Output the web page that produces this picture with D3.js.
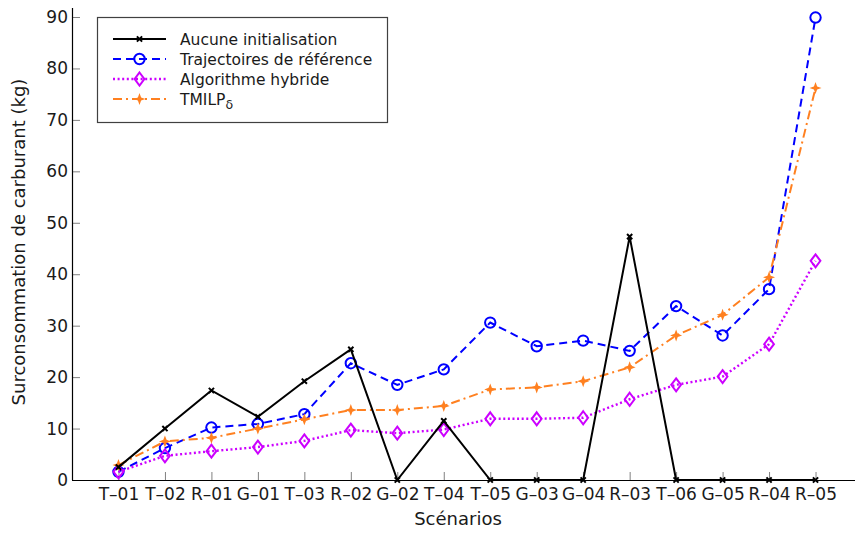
<!DOCTYPE html>
<html>
<head>
<meta charset="utf-8">
<script src="https://cdn.jsdelivr.net/npm/d3@7"></script>
<style>
  html, body { margin: 0; padding: 0; background: #fff; }
  svg text { font-family: "DejaVu Sans", Verdana, sans-serif; }
</style>
</head>
<body>
<svg id="chart" width="855" height="533"></svg>
<script>
// Scenario labels along the horizontal axis
const scenarios = ["T\u201301","T\u201302","R\u201301","G\u201301","T\u201303","R\u201302","G\u201302","T\u201304",
                   "T\u201305","G\u201303","G\u201304","R\u201303","T\u201306","G\u201305","R\u201304","R\u201305"];

// Fuel over-consumption (kg) per method
const aucuneInit   = [2.5, 10.0, 17.4, 12.3, 19.2, 25.4, 0, 11.5, 0, 0, 0, 47.3, 0, 0, 0, 0];
const trajRef      = [1.6, 6.2, 10.2, 10.9, 12.8, 22.7, 18.5, 21.5, 30.6, 26.0, 27.1, 25.1, 33.8, 28.1, 37.1, 89.9];
const hybride      = [1.6, 4.7, 5.6, 6.4, 7.6, 9.7, 9.1, 9.8, 11.9, 11.9, 12.1, 15.7, 18.5, 20.1, 26.4, 42.6];
const tmilp        = [2.9, 7.5, 8.2, 10.0, 11.8, 13.6, 13.6, 14.4, 17.6, 18.0, 19.2, 21.9, 28.1, 32.1, 39.4, 76.2];

const yTicks = [0, 10, 20, 30, 40, 50, 60, 70, 80, 90];

const svg = d3.select("#chart");
const W = 855, H = 533;
const plotLeft = 72, plotBottom = 480, plotTop = 8;

const x = d3.scalePoint().domain(scenarios).range([plotLeft, 862]).padding(1);
const y = d3.scaleLinear().domain([0, 90]).range([plotBottom, 17]);

// Axes: ticks point inward
const xAxis = d3.axisBottom(x).tickSize(-8).tickPadding(8);
const yAxis = d3.axisLeft(y).tickValues(yTicks).tickSize(-8).tickPadding(4);

const gx = svg.append("g").attr("transform", `translate(0,${plotBottom})`).call(xAxis);
gx.select(".domain").remove();
gx.selectAll(".tick line").attr("stroke", "#808080").attr("stroke-width", 1);
gx.selectAll(".tick text").attr("font-size", 17).attr("fill", "#1a1a1a");

const gy = svg.append("g").attr("transform", `translate(${plotLeft},0)`).call(yAxis);
gy.select(".domain").remove();
gy.selectAll(".tick line").attr("stroke", "#808080").attr("stroke-width", 1);
gy.selectAll(".tick text").attr("font-size", 17).attr("fill", "#1a1a1a");

// Axis lines
svg.append("line").attr("x1", plotLeft).attr("x2", W).attr("y1", plotBottom + 0.5).attr("y2", plotBottom + 0.5)
  .attr("stroke", "#000").attr("stroke-width", 1.2);
svg.append("line").attr("x1", plotLeft + 0.5).attr("x2", plotLeft + 0.5).attr("y1", plotTop).attr("y2", plotBottom)
  .attr("stroke", "#000").attr("stroke-width", 1.2);

// Axis titles
svg.append("text").attr("x", 458).attr("y", 525).attr("text-anchor", "middle")
  .attr("font-size", 18).attr("fill", "#1a1a1a").text("Scénarios");
svg.append("text").attr("transform", "translate(25,242) rotate(-90)").attr("text-anchor", "middle")
  .attr("font-size", 18).attr("fill", "#1a1a1a").text("Surconsommation de carburant (kg)");

// Series definitions
const series = [
  { name: "Aucune initialisation", values: aucuneInit, color: "#000000", dash: null, width: 2, marker: "x" },
  { name: "Trajectoires de référence", values: trajRef, color: "#0000ff", dash: "8,5", width: 2, marker: "circle" },
  { name: "Algorithme hybride", values: hybride, color: "#cc00ff", dash: "2,2.6", width: 2.4, marker: "diamond" },
  { name: "TMILP", values: tmilp, color: "#ff8020", dash: "9,4,2,4", width: 2, marker: "star" }
];

const line = d3.line().x(d => d[0]).y(d => d[1]);

// Four-pointed filled star
function starPath(r) {
  const ri = r * 0.38;
  const pts = [];
  for (let k = 0; k < 8; k++) {
    const a = k * Math.PI / 4 - Math.PI / 2;
    const rr = k % 2 === 0 ? r : ri;
    pts.push([rr * Math.cos(a), rr * Math.sin(a)]);
  }
  return "M" + pts.map(p => p.join(",")).join("L") + "Z";
}

function drawMarker(g, s, cx, cy) {
  if (s.marker === "x") {
    const r = 2.6;
    g.append("path").attr("d", `M${cx - r},${cy - r}L${cx + r},${cy + r}M${cx - r},${cy + r}L${cx + r},${cy - r}`)
      .attr("stroke", s.color).attr("stroke-width", 2);
  } else if (s.marker === "circle") {
    g.append("circle").attr("cx", cx).attr("cy", cy).attr("r", 5.2)
      .attr("fill", "none").attr("stroke", s.color).attr("stroke-width", 2);
  } else if (s.marker === "diamond") {
    const r = 6.5;
    g.append("path").attr("d", `M${cx},${cy - r}L${cx + r * 0.75},${cy}L${cx},${cy + r}L${cx - r * 0.75},${cy}Z`)
      .attr("fill", "none").attr("stroke", s.color).attr("stroke-width", 2);
  } else if (s.marker === "star") {
    g.append("path").attr("d", starPath(6)).attr("transform", `translate(${cx},${cy})`)
      .attr("fill", s.color);
  }
}

// Draw order: black on top of the others near the bottom
const order = [1, 2, 3, 0];
order.forEach(i => {
  const s = series[i];
  const g = svg.append("g");
  const pts = s.values.map((v, j) => [x(scenarios[j]), y(v)]);
  g.append("path").attr("d", line(pts)).attr("fill", "none")
    .attr("stroke", s.color).attr("stroke-width", s.width)
    .attr("stroke-dasharray", s.dash);
  pts.forEach(p => drawMarker(g, s, p[0], p[1]));
});

// Legend
const lg = svg.append("g");
lg.append("rect").attr("x", 97.5).attr("y", 17.5).attr("width", 290).attr("height", 105)
  .attr("fill", "#fff").attr("stroke", "#404040").attr("stroke-width", 1.2);
series.forEach((s, i) => {
  const yy = 39 + i * 20;
  lg.append("path").attr("d", line([[113, yy], [166, yy]])).attr("fill", "none")
    .attr("stroke", s.color).attr("stroke-width", s.width).attr("stroke-dasharray", s.dash);
  drawMarker(lg, s, 139.5, yy);
  const t = lg.append("text").attr("x", 180).attr("y", yy + 5.8).attr("font-size", 15.5).attr("fill", "#1a1a1a");
  t.append("tspan").text(s.name);
  if (s.name === "TMILP") {
    t.append("tspan").attr("font-size", 12.5).attr("dy", 4).text("\u03b4");
  }
});
</script>
</body>
</html>
